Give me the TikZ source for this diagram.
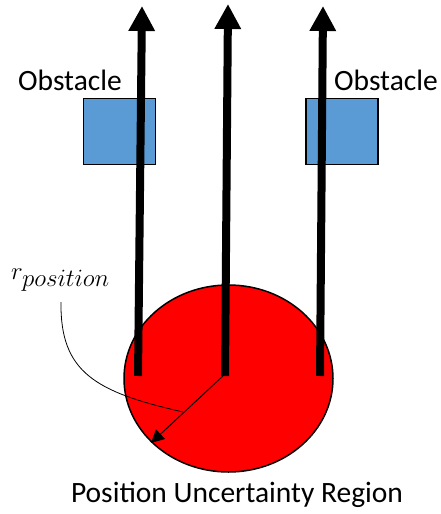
\documentclass[tikz,border=0pt]{standalone}
\usepackage{fontspec}
\setmainfont{Carlito}
\usetikzlibrary{arrows.meta}
\definecolor{obst}{HTML}{5B9BD5}
\definecolor{regred}{HTML}{FF0000}
\tikzset{
  obstacle/.style={draw=black,line width=1.5pt,fill=obst,minimum width=72pt,minimum height=66pt,inner sep=0pt},
  label/.style={font=\fontsize{29.5}{34}\selectfont,inner sep=0pt},
  path/.style={line width=8pt,-{Triangle[length=25pt,width=25pt]}},
  region/.style={draw=black,line width=1.5pt,fill=regred,ellipse,minimum width=209pt,minimum height=187pt,inner sep=0pt}
}
\usetikzlibrary{shapes.geometric}
\begin{document}
\begin{tikzpicture}[x=1pt,y=-1pt]
\useasboundingbox (0,0) rectangle (441,514);
\node[region] (reg) at (228.5,378.5) {};
\node[obstacle] (ob1) at (119.5,131.5) {};
\node[obstacle] (ob2) at (342,131.5) {};
\node[label] (t1) at (70,80) {Obstacle};
\node[label] (t2) at (386,80) {Obstacle};
\node[label] (t3) at (237,495) {Position Uncertainty Region};
\node[font=\fontsize{35}{40}\selectfont,inner sep=0pt,anchor=base west] (rp) at (11,279) {$r_{position}$};
\coordinate (s1) at (138,376);
\coordinate (e1) at (142,6);
\coordinate (s2) at (225,376);
\coordinate (e2) at (228,4);
\coordinate (s3) at (320,376);
\coordinate (e3) at (323,6);
\draw[path] (s1) -- (e1);
\draw[path] (s2) -- (e2);
\draw[path] (s3) -- (e3);
\coordinate (ctr) at (224,375);
\coordinate (edge) at (151,443);
\draw[line width=1pt,-{Triangle[length=13pt,width=13pt]}] (ctr) -- (edge);
\coordinate (cs) at (61,302);
\coordinate (ce) at (183,412);
\draw[line width=0.8pt] (cs) .. controls (60,372) and (95,392) .. (ce);
\end{tikzpicture}
\end{document}
